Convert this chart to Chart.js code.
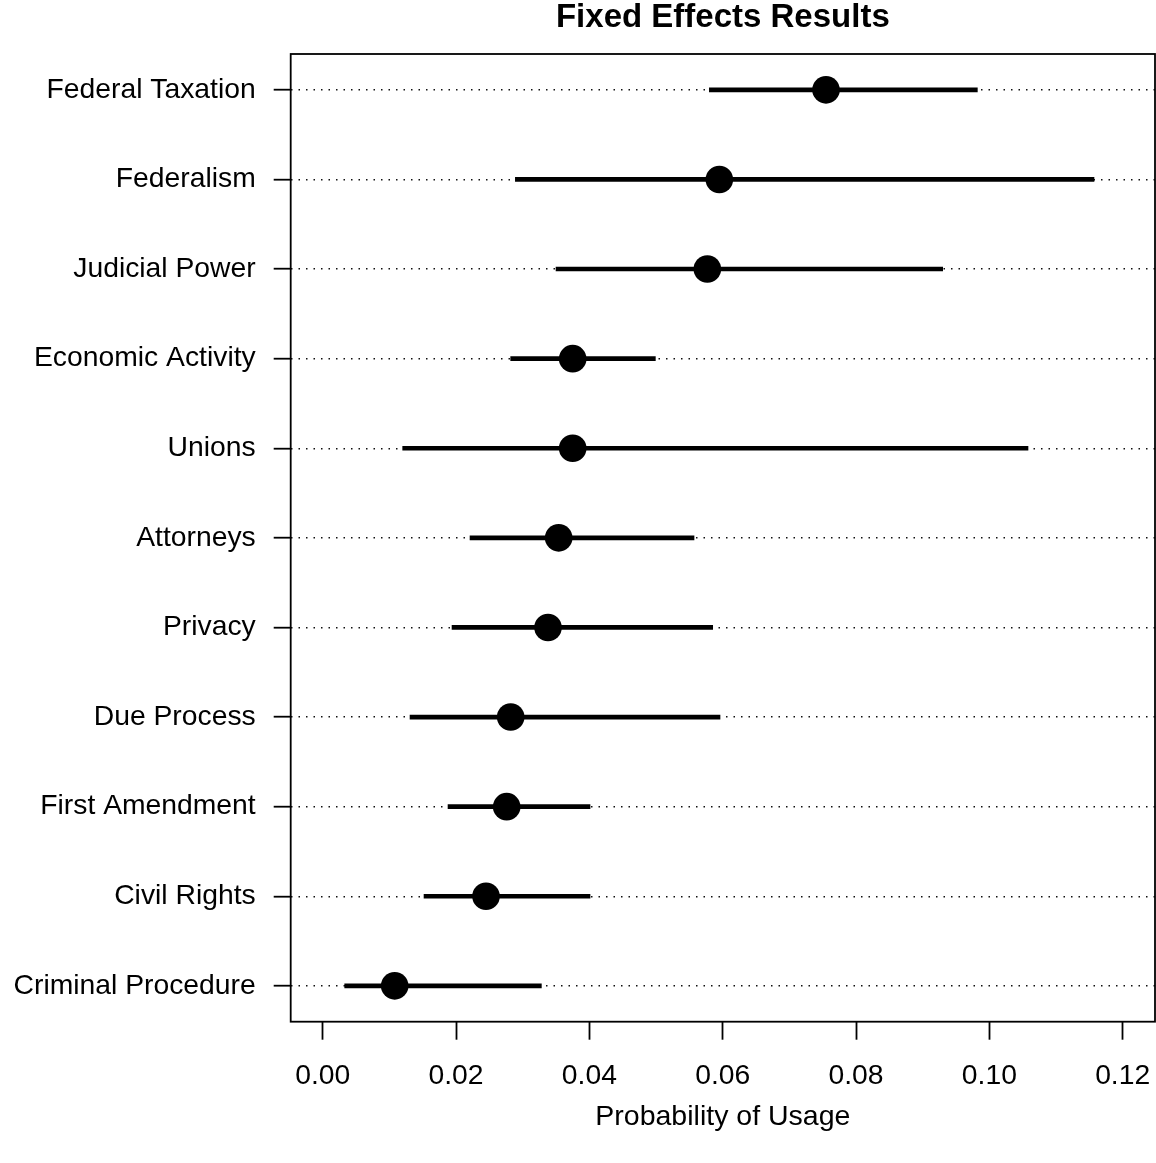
<!DOCTYPE html>
<html>
<head>
<meta charset="utf-8">
<title>Fixed Effects Results</title>
<script src="https://cdn.jsdelivr.net/npm/chart.js@4.4.1/dist/chart.umd.min.js"></script>
<style>
  html, body { margin: 0; padding: 0; background: #fff; }
  .chart-wrap { width: 1156px; height: 1163px; position: relative; }
</style>
</head>
<body>
<div class="chart-wrap"><canvas id="chart"></canvas></div>
<script>
// issue areas, top to bottom
const categories = [
  'Federal Taxation', 'Federalism', 'Judicial Power', 'Economic Activity',
  'Unions', 'Attorneys', 'Privacy', 'Due Process',
  'First Amendment', 'Civil Rights', 'Criminal Procedure',
];
const estimates = [0.0755, 0.0595, 0.0577, 0.0375, 0.0375, 0.0354, 0.0338, 0.0282, 0.0276, 0.0245, 0.0108];
const lower = [0.0580, 0.0289, 0.0350, 0.0282, 0.0120, 0.0221, 0.0194, 0.0131, 0.0188, 0.0152, 0.0033];
const upper = [0.0982, 0.1157, 0.0930, 0.0499, 0.1058, 0.0557, 0.0585, 0.0596, 0.0401, 0.0401, 0.0328];
const xTicks = [0, 0.02, 0.04, 0.06, 0.08, 0.10, 0.12];

// row position: top row gets the highest value
const rowPos = categories.map((c, i) => categories.length - i);

function displayDotChart() {
  const canvas = document.getElementById('chart');

  Chart.defaults.font.family = "'Liberation Sans', Arial, sans-serif";
  Chart.defaults.font.size = 28.3;
  Chart.defaults.color = '#000';

  const boxPlugin = {
    id: 'plotBox',
    afterDraw(chart) {
      const { ctx, chartArea } = chart;
      ctx.save();
      ctx.strokeStyle = '#000';
      ctx.lineWidth = 1.8;
      ctx.strokeRect(chartArea.left, chartArea.top, chartArea.right - chartArea.left, chartArea.bottom - chartArea.top);
      ctx.restore();
    },
  };

  new Chart(canvas, {
    type: 'bar',
    data: {
      datasets: [
        {
          type: 'scatter',
          label: 'estimate',
          data: estimates.map((v, i) => ({ x: v, y: rowPos[i] })),
          backgroundColor: '#000',
          borderWidth: 0,
          pointRadius: 13.8,
          pointHoverRadius: 13.8,
          order: 1,
        },
        {
          type: 'bar',
          label: 'interval',
          data: lower.map((v, i) => ({ x: [v, upper[i]], y: rowPos[i] })),
          backgroundColor: '#000',
          borderWidth: 0,
          barThickness: 4,
          order: 2,
        },
      ],
    },
    options: {
      indexAxis: 'y',
      responsive: true,
      maintainAspectRatio: false,
      animation: false,
      layout: { autoPadding: false, padding: { top: 0, right: 1, bottom: 0, left: 0 } },
      scales: {
        x: {
          type: 'linear',
          min: -0.0048,
          max: 0.12485,
          afterBuildTicks: (scale) => {
            scale.ticks = xTicks.map((v) => ({ value: v }));
          },
          afterFit: (scale) => {
            scale.height = 141.3;
            scale.paddingLeft = 0;
            scale.paddingRight = 0;
          },
          ticks: {
            padding: 20,
            callback: (v) => Number(v).toFixed(2),
          },
          grid: {
            drawOnChartArea: false,
            drawTicks: true,
            tickLength: 18,
            tickColor: '#000',
            tickWidth: 1.8,
          },
          border: { display: false },
          title: {
            display: true,
            text: 'Probability of Usage',
            font: { size: 28.5 },
            padding: { top: 0, bottom: 29 },
          },
        },
        y: {
          type: 'linear',
          min: 0.6,
          max: 11.4,
          offset: false,
          afterBuildTicks: (scale) => {
            scale.ticks = rowPos.map((v) => ({ value: v }));
          },
          afterFit: (scale) => {
            scale.width = 290.7;
            scale.paddingTop = 0;
            scale.paddingBottom = 0;
          },
          ticks: {
            padding: 18,
            callback: (v) => categories[categories.length - v],
          },
          grid: {
            offset: false,
            color: '#111',
            lineWidth: 1.4,
            tickLength: 17,
            tickColor: '#000',
            tickWidth: 1.8,
          },
          border: { display: false, dash: [1.5, 6] },
        },
      },
      plugins: {
        legend: { display: false },
        tooltip: { enabled: false },
        title: {
          display: true,
          fullSize: false,
          text: 'Fixed Effects Results',
          font: { size: 33, weight: 'bold', lineHeight: 1 },
          padding: { top: 1, bottom: 20 },
        },
      },
    },
    plugins: [boxPlugin],
  });
}

displayDotChart();
</script>
</body>
</html>
